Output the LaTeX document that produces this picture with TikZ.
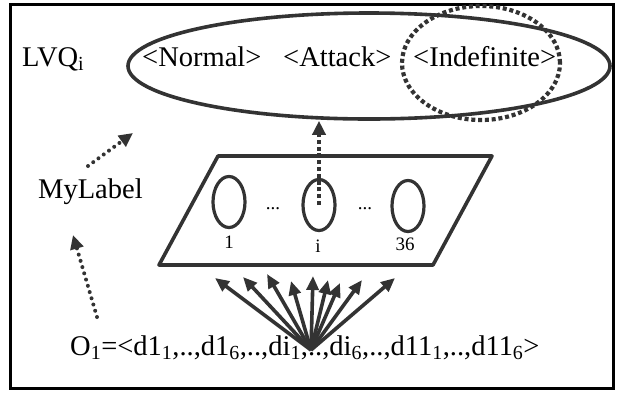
\documentclass[tikz,border=0pt]{standalone}
\usepackage{fontspec}
\setmainfont{Liberation Serif}
\usetikzlibrary{arrows.meta,shapes.geometric}
\definecolor{darkline}{RGB}{51,51,51}
\tikzset{
	bigtext/.style = {font = \fontsize{28.5}{34}\selectfont, inner sep = 0pt, anchor = base west},
	smalltext/.style = {font = \fontsize{19}{22}\selectfont, inner sep = 0pt, anchor = base},
	ring/.style = {ellipse, draw = darkline, line width = 3.6pt, inner sep = 0pt},
	cell/.style = {ellipse, draw = darkline, line width = 3.2pt, minimum width = 32pt, minimum height = 51pt, inner sep = 0pt},
	squaredash/.style = {draw = darkline, line width = 4.2pt, dash pattern = on 4pt off 2.8pt},
	dotarrow/.style = {draw = darkline, line width = 4pt, line cap = round, dash pattern = on 0pt off 6.5pt, -{Triangle[length = 14pt, width = 13pt]}},
	fanarrow/.style = {draw = darkline, line width = 3.6pt, -{Triangle[length = 14pt, width = 12pt]}}
}

\begin{document}
\begin{tikzpicture}[x = 1pt, y = -1pt]
			\useasboundingbox (0,0) rectangle (619,392);
			\draw[line width = 3pt] (10,4) rectangle (613,388);
			% classes
			\node (lvq) at (369,66) [ring, minimum width = 482pt, minimum height = 106pt] {};
			\node (indef) at (481,63) [ellipse, squaredash, minimum width = 158pt, minimum height = 114pt] {};
			\node (name) at (22,66) [bigtext] {LVQ\textsubscript{i}};
			\node (normal) at (142,66) [bigtext] {<Normal>};
			\node (attack) at (283,66) [bigtext] {<Attack>};
			\node (indtext) at (413,66) [bigtext] {<Indefinite>};
			% layer
			\draw[draw = darkline, line width = 3.6pt, line join = round] (218,156) -- (492,156) -- (433,265) -- (159,265) -- cycle;
			\node (c1) at (229,202) [cell] {};
			\node (ci) at (319,205) [cell] {};
			\node (c36) at (408,206) [cell] {};
			\node (d1) at (273,209) [smalltext] {...};
			\node (d2) at (365,209) [smalltext] {...};
			\node (l1) at (229,248) [smalltext] {1};
			\node (li) at (318,252) [smalltext] {i};
			\node (l36) at (405,250) [smalltext] {36};
			\draw[squaredash, -{Triangle[length = 14pt, width = 13pt]}] (ci.center) -- (ci.center |- lvq.south);
			% label
			\node (mylabel) at (38,198) [bigtext] {MyLabel};
			\coordinate (up0) at (88,166);
			\coordinate (up1) at (133,133);
			\coordinate (dn0) at (97,317);
			\coordinate (dn1) at (73,235);
			\draw[dotarrow] (up0) -- (up1);
			\draw[dotarrow] (dn0) -- (dn1);
			% input
			\node (obs) at (70,355) [bigtext] {O\textsubscript{1}=<d1\textsubscript{1},..,d1\textsubscript{6},..,di\textsubscript{1},..,di\textsubscript{6},..,d11\textsubscript{1},..,d11\textsubscript{6}>};
			\coordinate (fan) at (311,350);
			\coordinate (t1) at (215,278);
			\coordinate (t2) at (243,277);
			\coordinate (t3) at (267,274);
			\coordinate (t4) at (291,281);
			\coordinate (t5) at (313,276);
			\coordinate (t6) at (328,280);
			\coordinate (t7) at (340,283);
			\coordinate (t8) at (362,280);
			\coordinate (t9) at (395,278);
			\draw[fanarrow] (fan) -- (t1);
			\draw[fanarrow] (fan) -- (t2);
			\draw[fanarrow] (fan) -- (t3);
			\draw[fanarrow] (fan) -- (t4);
			\draw[fanarrow] (fan) -- (t5);
			\draw[fanarrow] (fan) -- (t6);
			\draw[fanarrow] (fan) -- (t7);
			\draw[fanarrow] (fan) -- (t8);
			\draw[fanarrow] (fan) -- (t9);
\end{tikzpicture}
\end{document}
